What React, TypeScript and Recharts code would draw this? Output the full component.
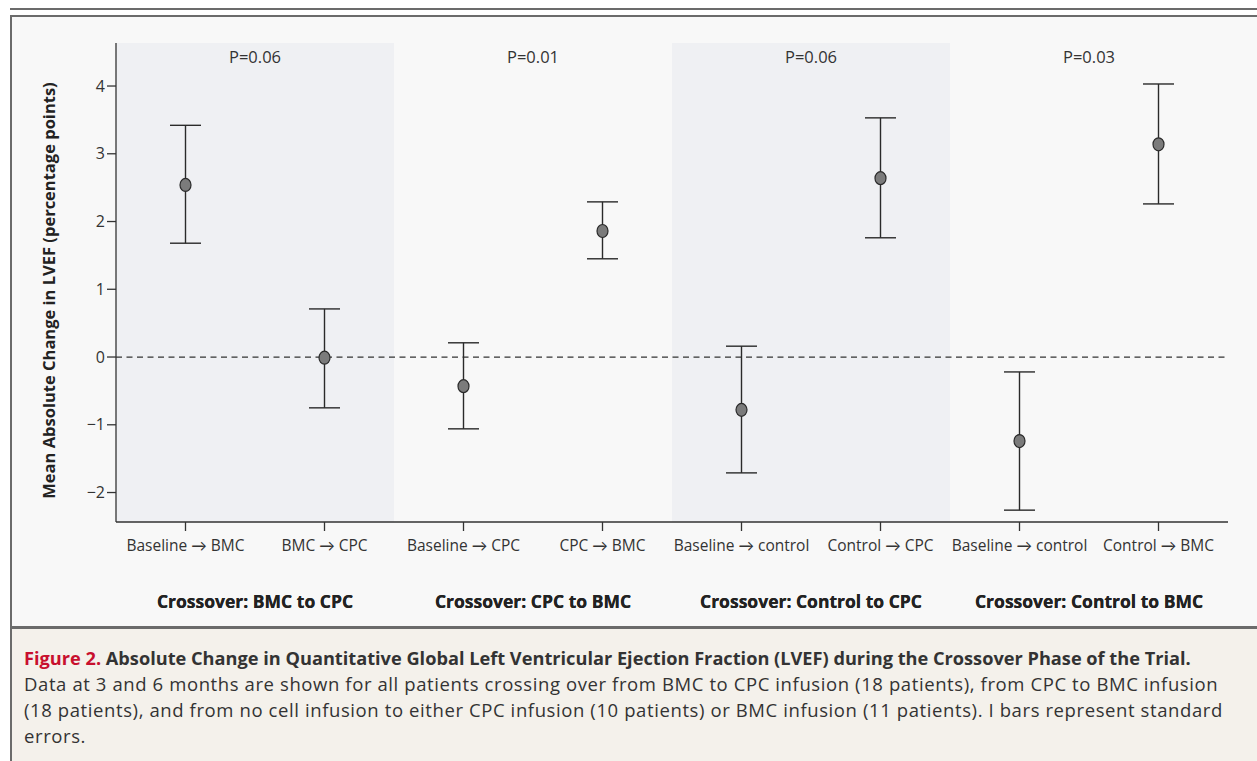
import React from 'react';
import { ComposedChart, Scatter, XAxis, YAxis, ErrorBar, ReferenceArea, ReferenceLine, Label } from 'recharts';

const pointIds = ['g1a', 'g1b', 'g2a', 'g2b', 'g3a', 'g3b', 'g4a', 'g4b'];
const pointLabels = [
  'Baseline → BMC', 'BMC → CPC',
  'Baseline → CPC', 'CPC → BMC',
  'Baseline → control', 'Control → CPC',
  'Baseline → control', 'Control → BMC',
];
const groupNames = [
  'Crossover: BMC to CPC',
  'Crossover: CPC to BMC',
  'Crossover: Control to CPC',
  'Crossover: Control to BMC',
];
const pointGroup = [0, 0, 1, 1, 2, 2, 3, 3];
const means = [2.54, -0.01, -0.43, 1.86, -0.78, 2.64, -1.24, 3.14];
const lowerBounds = [1.68, -0.75, -1.06, 1.45, -1.71, 1.76, -2.26, 2.26];
const upperBounds = [3.42, 0.71, 0.21, 2.29, 0.16, 3.53, -0.22, 4.03];
const pValues = ['P=0.06', 'P=0.01', 'P=0.06', 'P=0.03'];
const shadedGroups = [true, false, true, false];
const yTicks = [-2, -1, 0, 1, 2, 3, 4];

const data = pointIds.map((id, i) => ({
  id,
  group: groupNames[pointGroup[i]],
  mean: means[i],
  err: [means[i] - lowerBounds[i], upperBounds[i] - means[i]],
}));

const labelFor: Record<string, string> = {};
pointIds.forEach((id, i) => { labelFor[id] = pointLabels[i]; });

const FONT = '"Open Sans", Lato, sans-serif';
const INK = '#333333';
const RULE = '#6b6b6b';
const PTS = 'axA';
const GRP = 'axB';

const Marker = (props: any) => {
  const { cx, cy } = props;
  if (cx == null || cy == null) return null;
  return <ellipse cx={cx} cy={cy} rx={5.5} ry={6.5} fill="#7b7b7b" stroke="#2a2a2a" strokeWidth={1.2} />;
};

const YLabel = (props: any) => {
  const vb = props.viewBox || {};
  const x = (vb.x ?? 36) + 12;
  const y = (vb.y ?? 43) + (vb.height ?? 479) / 2 + 8;
  return (
    <text x={x} y={y} transform={`rotate(-90, ${x}, ${y})`} textAnchor="middle" dominantBaseline="central"
      fontFamily={FONT} fontSize={16.5} fontWeight={700} fill="#222">
      Mean Absolute Change in LVEF (percentage points)
    </text>
  );
};

export default function App() {
  return (
    <div style={{ position: 'absolute', left: 0, top: 0, width: 1257, height: 761, background: '#fff', fontFamily: FONT, overflow: 'hidden' }}>
      <div style={{ position: 'absolute', left: 10, top: 8, width: 1247, height: 2, background: RULE }} />
      <div style={{ position: 'absolute', left: 10, top: 15, width: 1247, height: 2, background: RULE }} />
      <div style={{ position: 'absolute', left: 10, top: 15, width: 2, height: 746, background: RULE }} />
      <div style={{ position: 'absolute', left: 12, top: 17, width: 1245, height: 609, background: '#f8f8f8' }} />
      <div style={{ position: 'absolute', left: 12, top: 626, width: 1245, height: 3, background: RULE }} />
      <div style={{ position: 'absolute', left: 12, top: 629, width: 1245, height: 132, background: '#f4f1eb' }} />
      <div style={{ position: 'absolute', left: 24, top: 645, width: 1225, lineHeight: '26px', color: '#333', whiteSpace: 'nowrap' }}>
        <div style={{ fontSize: 18.2, fontWeight: 700 }}>
          <span style={{ color: '#c8102e' }}>Figure 2.</span> Absolute Change in Quantitative Global Left Ventricular Ejection Fraction (LVEF) during the Crossover Phase of the Trial.
        </div>
        <div style={{ fontSize: 18.5, letterSpacing: '0.6px' }}>
          Data at 3 and 6 months are shown for all patients crossing over from BMC to CPC infusion (18 patients), from CPC to BMC infusion<br />
          (18 patients), and from no cell infusion to either CPC infusion (10 patients) or BMC infusion (11 patients). I bars represent standard<br />
          errors.
        </div>
      </div>
      <div style={{ position: 'absolute', left: 0, top: 0 }}>
        <ComposedChart width={1257} height={626} data={data} margin={{ top: 43, right: 29, bottom: 14, left: 36 }}>
          <XAxis xAxisId={PTS} dataKey="id" type="category" height={40} scale="band"
            tickFormatter={(v: string) => labelFor[v] ?? v}
            tickSize={9} tickMargin={9}
            tick={{ fontFamily: FONT, fontSize: 15.5, fill: INK }}
            axisLine={{ stroke: INK, strokeWidth: 1.3 }} tickLine={{ stroke: INK, strokeWidth: 1.3 }}
            interval={0} />
          <XAxis xAxisId={GRP} dataKey="group" type="category" allowDuplicatedCategory={false} height={50}
            scale="band"
            tickSize={0} tickMargin={34} tickLine={false} axisLine={false}
            tick={{ fontFamily: FONT, fontSize: 17.5, fontWeight: 700, fill: '#222' }} interval={0} />
          <YAxis yAxisId="v" type="number" domain={[-2.435, 4.635]} ticks={yTicks} allowDataOverflow width={80}
            tickFormatter={(v: number) => String(v).replace('-', '−')}
            tickSize={9} tickMargin={2}
            tick={{ fontFamily: FONT, fontSize: 16, fill: INK }}
            axisLine={{ stroke: INK, strokeWidth: 1.3 }} tickLine={{ stroke: INK, strokeWidth: 1.3 }}>
            <Label content={<YLabel />} />
          </YAxis>
          {groupNames.map((g, gi) => {
            const ids = pointIds.filter((_, i) => pointGroup[i] === gi);
            return (
              <ReferenceArea key={g} xAxisId={PTS} yAxisId="v" x1={ids[0]} x2={ids[ids.length - 1]}
                fill={shadedGroups[gi] ? '#eff0f3' : '#f8f8f8'} fillOpacity={shadedGroups[gi] ? 1 : 0} stroke="none"
                ifOverflow="visible"
                label={{ value: pValues[gi], position: 'insideTop', offset: 8, fill: INK, fontSize: 16.5, fontFamily: FONT }} />
            );
          })}
          <ReferenceLine xAxisId={PTS} yAxisId="v" y={0} stroke={INK} strokeWidth={1.2} strokeDasharray="6 4.5" />
          <Scatter xAxisId={PTS} yAxisId="v" dataKey="mean" shape={<Marker />} isAnimationActive={false}>
            <ErrorBar dataKey="err" direction="y" width={15.5} stroke="#2a2a2a" strokeWidth={1.4} />
          </Scatter>
        </ComposedChart>
      </div>
    </div>
  );
}
